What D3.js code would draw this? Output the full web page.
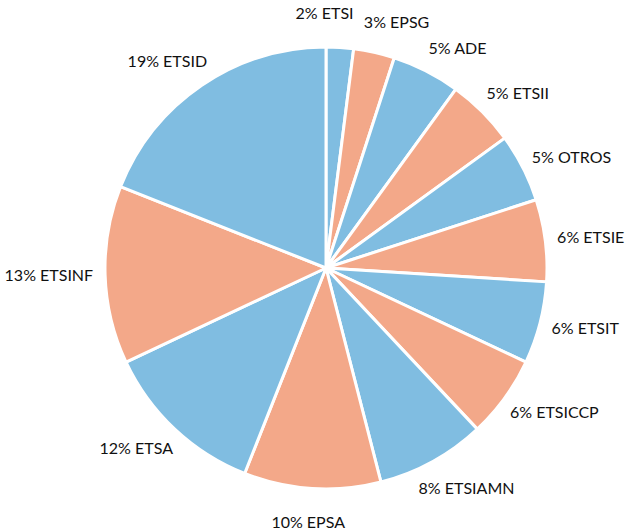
<!DOCTYPE html>
<html>
<head>
<meta charset="utf-8">
<script src="https://cdn.jsdelivr.net/npm/d3@7"></script>
<style>
  body { margin: 0; background: #fff; }
  text { font-family: Lato, "Open Sans", sans-serif; font-size: 16px; fill: #111; }
</style>
</head>
<body>
<div id="chart"></div>
<script>
// data
var schools = ["ETSI", "EPSG", "ADE", "ETSII", "OTROS", "ETSIE", "ETSIT", "ETSICCP", "ETSIAMN", "EPSA", "ETSA", "ETSINF", "ETSID"];
var shares = [2, 3, 5, 5, 5, 6, 6, 6, 8, 10, 12, 13, 19];
var palette = ["#80bde1", "#f3a889"];

var svgWidth = 638;
var svgHeight = 532;
var cx = 326, cy = 268;
var radius = 221;
var gapSide = 12, gapEnd = 26;

var svg = d3.select("#chart")
  .append("svg")
  .attr("width", svgWidth)
  .attr("height", svgHeight);

var chartGroup = svg.append("g")
  .attr("transform", `translate(${cx}, ${cy})`);

var rows = schools.map((s, i) => ({ name: s, value: shares[i], idx: i }));

var pie = d3.pie()
  .sort(null)
  .value(d => d.value);

var arc = d3.arc()
  .innerRadius(0)
  .outerRadius(radius);

var arcs = pie(rows);

chartGroup.selectAll("path.slice")
  .data(arcs)
  .enter()
  .append("path")
  .attr("class", "slice")
  .attr("d", arc)
  .attr("fill", d => palette[d.data.idx % 2])
  .attr("stroke", "#fff")
  .attr("stroke-width", 3)
  .attr("stroke-linejoin", "round");

// labels go just outside the rim, then get nudged apart along the circle
var labels = chartGroup.selectAll("text.lbl")
  .data(arcs)
  .enter()
  .append("text")
  .attr("class", "lbl")
  .attr("text-anchor", "middle")
  .attr("dy", "0.35em")
  .text(d => `${d.data.value}% ${d.data.name}`);

var boxH = 15;
var items = [];
labels.each(function(d) {
  items.push({ node: this, angle: (d.startAngle + d.endAngle) / 2, w: this.getComputedTextLength() });
});

function place(it) {
  var s = Math.sin(it.angle), c = -Math.cos(it.angle);
  var r = radius + gapSide * s * s + gapEnd * c * c;
  it.x = r * s + s * it.w / 2;
  it.y = r * c + c * boxH / 2;
}

function overlap(a, b, pad) {
  return Math.abs(a.x - b.x) < (a.w + b.w) / 2 + pad &&
         Math.abs(a.y - b.y) < boxH + pad;
}

items.forEach(place);
for (var k = 0; k < 400; k++) {
  var moved = false;
  for (var i = 0; i < items.length; i++) {
    var a = items[i], b = items[(i + 1) % items.length];
    if (overlap(a, b, 10)) {
      a.angle -= 0.004;
      b.angle += 0.004;
      place(a); place(b);
      moved = true;
    }
  }
  if (!moved) break;
}

items.forEach(it => {
  d3.select(it.node).attr("x", it.x).attr("y", it.y);
});
</script>
</body>
</html>
